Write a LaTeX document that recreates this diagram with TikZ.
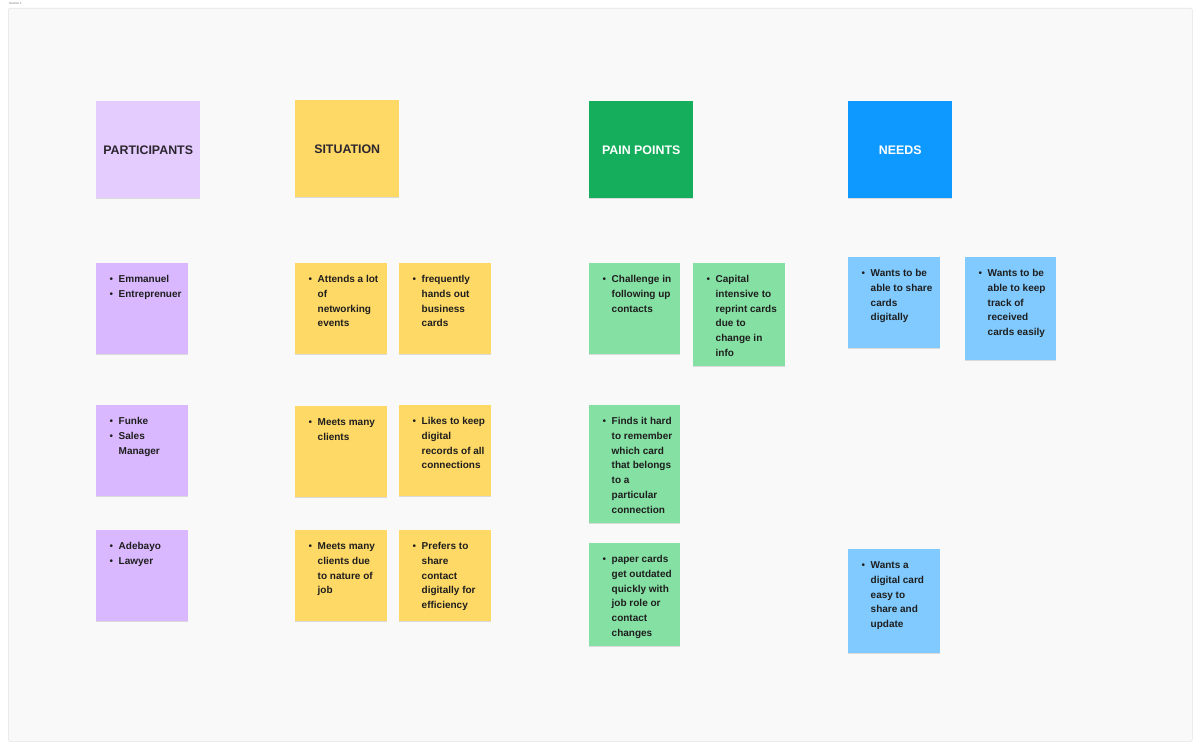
\documentclass[tikz,border=0pt]{standalone}
\usepackage{fontspec}
\setmainfont{Liberation Sans}
\usetikzlibrary{shadows}
\definecolor{canvas}{HTML}{F9F9F9}
\definecolor{framecol}{HTML}{E3E3E3}
\definecolor{hpurple}{HTML}{E5CCFF}
\definecolor{hyellow}{HTML}{FFD966}
\definecolor{hgreen}{HTML}{14AE5C}
\definecolor{hblue}{HTML}{0D99FF}
\definecolor{npurple}{HTML}{D9B8FF}
\definecolor{nyellow}{HTML}{FFD966}
\definecolor{ngreen}{HTML}{85E0A3}
\definecolor{nblue}{HTML}{80CAFF}
\definecolor{ink}{HTML}{1E1E1E}
\definecolor{headink}{HTML}{2C2630}
\tikzset{
  sticky/.style={fill=#1, draw=none, inner sep=0pt, anchor=north west,
    drop shadow={shadow xshift=0pt, shadow yshift=-1pt, opacity=0.12, fill=black}},
  headnote/.style={sticky=#1, minimum width=104pt, minimum height=97pt},
  headtext/.style={inner sep=0pt, font=\bfseries\fontsize{12.4}{14}\selectfont},
  notetext/.style={anchor=north west, inner sep=0pt, text=ink,
    font=\bfseries\fontsize{10}{14.8}\selectfont},
}
\newcommand\stickynote[7]{%
  \node[sticky=#6, minimum width=#4pt, minimum height=#5pt] (#1) at (#2,#3) {};
  \node[notetext] (#1-t) at ([xshift=13.5pt,yshift=-9pt]#1.north west)
    {\begin{tabular}{@{}l@{\hspace{5.5pt}}l@{}}#7\end{tabular}};
}
\newcommand\bu{{\mdseries\textbullet}}
\begin{document}
\begin{tikzpicture}[x=1pt,y=-1pt]
\useasboundingbox (0,0) rectangle (1200,749);
\fill[white] (0,0) rectangle (1200,749);
\node[draw=framecol, line width=0.6pt, fill=canvas, rounded corners=2pt, inner sep=0pt,
  anchor=north west, minimum width=1184pt, minimum height=733pt] (frame) at (8,8) {};
\node[anchor=north west, inner sep=0pt, text=black!55, font=\fontsize{3}{3}\selectfont] (label) at (9,2) {Section 1};

% headers
\node[headnote=hpurple] (hpart) at (96,101) {};
\node[headtext, text=headink] (hpart-t) at ([yshift=-1pt]hpart.center) {PARTICIPANTS};
\node[headnote=hyellow] (hsit) at (295,100) {};
\node[headtext, text=headink] (hsit-t) at ([yshift=-1pt]hsit.center) {SITUATION};
\node[headnote=hgreen] (hpain) at (589,101) {};
\node[headtext, text=white] (hpain-t) at ([yshift=-1pt]hpain.center) {PAIN POINTS};
\node[headnote=hblue] (hneed) at (848,101) {};
\node[headtext, text=white] (hneed-t) at ([yshift=-1pt]hneed.center) {NEEDS};

% participants
\stickynote{p1}{96}{263}{92}{91}{npurple}{\bu & Emmanuel\\ \bu & Entreprenuer}
\stickynote{p2}{96}{405}{92}{91}{npurple}{\bu & Funke\\ \bu & Sales\\ & Manager}
\stickynote{p3}{96}{530}{92}{91}{npurple}{\bu & Adebayo\\ \bu & Lawyer}

% situation
\stickynote{s1}{295}{263}{92}{91}{nyellow}{\bu & Attends a lot\\ & of\\ & networking\\ & events}
\stickynote{s2}{399}{263}{92}{91}{nyellow}{\bu & frequently\\ & hands out\\ & business\\ & cards}
\stickynote{s3}{295}{406}{92}{91}{nyellow}{\bu & Meets many\\ & clients}
\stickynote{s4}{399}{405}{92}{91}{nyellow}{\bu & Likes to keep\\ & digital\\ & records of all\\ & connections}
\stickynote{s5}{295}{530}{92}{91}{nyellow}{\bu & Meets many\\ & clients due\\ & to nature of\\ & job}
\stickynote{s6}{399}{530}{92}{91}{nyellow}{\bu & Prefers to\\ & share\\ & contact\\ & digitally for\\ & efficiency}

% pain points
\stickynote{pp1}{589}{263}{91}{91}{ngreen}{\bu & Challenge in\\ & following up\\ & contacts}
\stickynote{pp2}{693}{263}{92}{103}{ngreen}{\bu & Capital\\ & intensive to\\ & reprint cards\\ & due to\\ & change in\\ & info}
\stickynote{pp3}{589}{405}{91}{118}{ngreen}{\bu & Finds it hard\\ & to remember\\ & which card\\ & that belongs\\ & to a\\ & particular\\ & connection}
\stickynote{pp4}{589}{543}{91}{103}{ngreen}{\bu & paper cards\\ & get outdated\\ & quickly with\\ & job role or\\ & contact\\ & changes}

% needs
\stickynote{n1}{848}{257}{92}{91}{nblue}{\bu & Wants to be\\ & able to share\\ & cards\\ & digitally}
\stickynote{n2}{965}{257}{91}{103}{nblue}{\bu & Wants to be\\ & able to keep\\ & track of\\ & received\\ & cards easily}
\stickynote{n3}{848}{549}{92}{104}{nblue}{\bu & Wants a\\ & digital card\\ & easy to\\ & share and\\ & update}
\end{tikzpicture}
\end{document}
